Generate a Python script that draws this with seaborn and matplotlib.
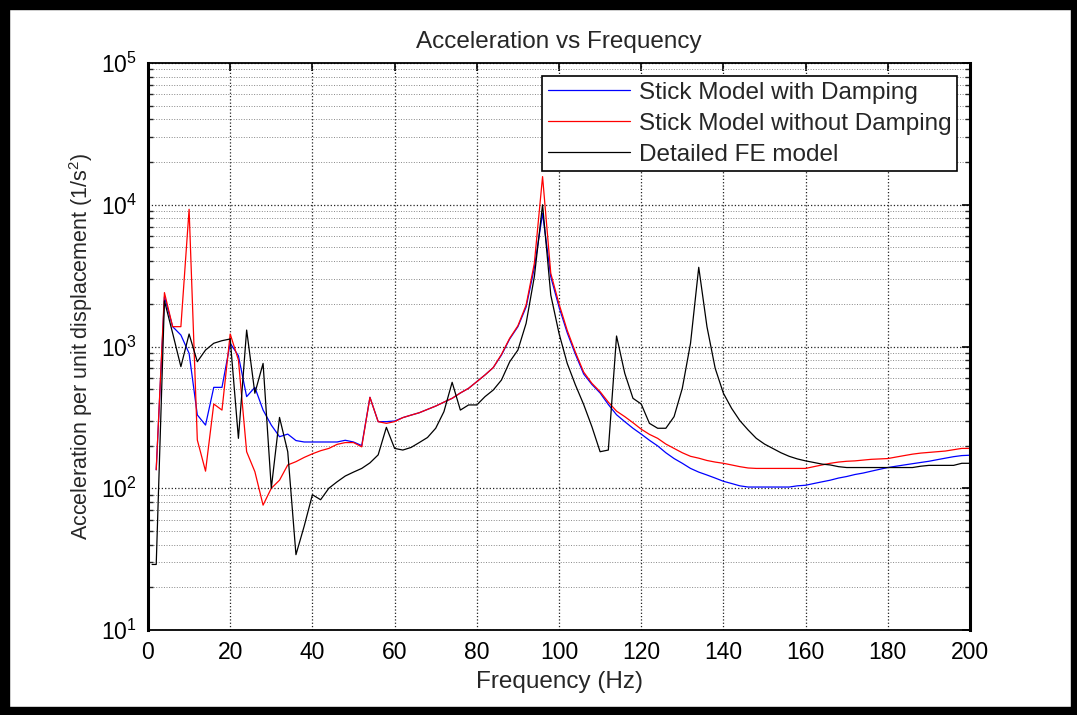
import numpy as np
import pandas as pd
import matplotlib
matplotlib.use("Agg")
import matplotlib.pyplot as plt
import seaborn as sns
from matplotlib.patches import Rectangle
from matplotlib.ticker import LogLocator, FixedLocator

# ---------------- data ----------------
freq = list(range(2, 201, 2))
freq_fe = [1] + freq

with_damping = [
    135, 2244, 1380, 1205, 895, 329, 279, 515, 515, 1054,
    861, 443, 515, 356, 279, 231, 241, 217, 212, 212,
    212, 212, 212, 218, 212, 200, 438, 295, 295, 298,
    315, 328, 341, 360, 380, 405, 431, 470, 507, 565,
    630, 710, 870, 1130, 1380, 1900, 3600, 8700, 3100, 1900,
    1250, 880, 640, 540, 470, 390, 330, 295, 265, 241,
    218, 199, 178, 162, 150, 138, 130, 124, 118, 112,
    108, 104, 102, 102, 102, 102, 102, 102, 104, 105,
    108, 111, 114, 118, 121, 125, 128, 132, 136, 140,
    143, 146, 149, 152, 155, 159, 163, 167, 170, 171]

without_damping = [
    135, 2400, 1380, 1380, 9290, 219, 132, 393, 356, 1225,
    803, 181, 131, 76, 100, 114, 146, 154, 165, 175,
    184, 191, 204, 210, 210, 196, 438, 295, 287, 295,
    315, 328, 341, 360, 380, 405, 431, 470, 507, 565,
    630, 710, 880, 1143, 1400, 1960, 3860, 15800, 3280, 2000,
    1300, 910, 660, 550, 480, 405, 350, 320, 290, 261,
    240, 225, 205, 191, 178, 168, 163, 157, 153, 150,
    146, 142, 139, 138, 138, 138, 138, 138, 138, 138,
    142, 146, 150, 153, 155, 156, 158, 160, 161, 162,
    166, 170, 174, 177, 179, 181, 183, 187, 191, 191]

fe_model = [
    29, 29, 2100, 1240, 721, 1225, 781, 944, 1054, 1099, 1130,
    225, 1306, 468, 760, 100, 316, 181, 34, 54, 90,
    83, 100, 111, 122, 130, 138, 151, 172, 269, 191,
    186, 194, 210, 228, 265, 347, 559, 356, 387, 387,
    443, 493, 580, 780, 944, 1458, 3110, 10000, 2308, 1240,
    760, 535, 390, 272, 181, 186, 1186, 647, 431, 393,
    287, 265, 265, 320, 507, 1054, 3620, 1380, 702, 468,
    366, 300, 258, 225, 205, 191, 178, 168, 161, 156,
    152, 148, 146, 142, 140, 140, 140, 140, 140, 140,
    140, 140, 140, 143, 145, 145, 145, 145, 150, 150]

series_labels = ["Stick Model with Damping", "Stick Model without Damping", "Detailed FE model"]
title_text = "Acceleration vs Frequency"
xlabel_text = "Frequency (Hz)"
ylabel_text = "Acceleration per unit displacement (1/s$^2$)"
xticks = [0, 20, 40, 60, 80, 100, 120, 140, 160, 180, 200]

# ---------------- style ----------------
sns.set_style("white")
plt.rcParams['font.family'] = ['Liberation Sans', 'DejaVu Sans']
plt.rcParams['mathtext.fontset'] = 'custom'
plt.rcParams['mathtext.rm'] = 'Liberation Sans'
plt.rcParams['mathtext.it'] = 'Liberation Sans:italic'
plt.rcParams['mathtext.bf'] = 'Liberation Sans:bold'

fig = plt.figure(figsize=(10.77, 7.15), dpi=100)
ax = fig.add_axes([148/1077, 1-630/715, (970-148)/1077, (630-63)/715])

df_b = pd.DataFrame({"f": freq, "v": with_damping})
df_r = pd.DataFrame({"f": freq, "v": without_damping})
df_k = pd.DataFrame({"f": freq_fe, "v": fe_model})

sns.lineplot(data=df_b, x="f", y="v", ax=ax, color="#0000ff", lw=0.9, label=series_labels[0])
sns.lineplot(data=df_r, x="f", y="v", ax=ax, color="#ff0000", lw=0.9, label=series_labels[1])
sns.lineplot(data=df_k, x="f", y="v", ax=ax, color="#000000", lw=0.9, label=series_labels[2])

ax.set_yscale("log")
ax.set_xlim(0, 200)
ax.set_ylim(10, 1e5)
ax.xaxis.set_major_locator(FixedLocator(xticks))
ax.yaxis.set_major_locator(LogLocator(base=10, numticks=10))
ax.yaxis.set_minor_locator(LogLocator(base=10, subs=np.arange(2, 10), numticks=20))

ax.grid(True, which="major", axis="both", ls=":", color="#222222", lw=0.9)
ax.grid(True, which="minor", axis="y", ls=":", color="#888888", lw=0.7)

ax.tick_params(axis="both", which="major", direction="in", length=6, width=1.2,
               top=True, right=True, labelsize=16.5, pad=8, colors="black")
ax.tick_params(axis="y", which="minor", direction="in", length=3.5, width=1.0,
               left=True, right=True)
for s in ax.spines.values():
    s.set_color("black")
    s.set_linewidth(1.3)
ax.spines["left"].set_linewidth(2.2)
ax.spines["right"].set_linewidth(2.2)

ax.set_title(title_text, fontsize=17.5, pad=11)
ax.set_xlabel(xlabel_text, fontsize=17.5, labelpad=5)
ax.set_ylabel(ylabel_text, fontsize=15.5, labelpad=4)

leg = ax.legend(loc="upper right", fontsize=17.5, frameon=True, fancybox=False,
                edgecolor="black", borderaxespad=0.55, handlelength=3.4,
                handletextpad=0.35, labelspacing=0.37, borderpad=0.22)
leg.get_frame().set_linewidth(1.2)
leg.get_frame().set_alpha(1)

# figure frame (thick black border)
W, H = 1077, 715
fig.add_artist(Rectangle((0, 0), 9/W, 1, transform=fig.transFigure, color="black", zorder=10))
fig.add_artist(Rectangle((0, 1-9/H), 1, 9/H, transform=fig.transFigure, color="black", zorder=10))
fig.add_artist(Rectangle((1-6/W, 0), 6/W, 1, transform=fig.transFigure, color="black", zorder=10))
fig.add_artist(Rectangle((0, 0), 1, 8/H, transform=fig.transFigure, color="black", zorder=10))

fig.savefig("out.png", dpi=100)
